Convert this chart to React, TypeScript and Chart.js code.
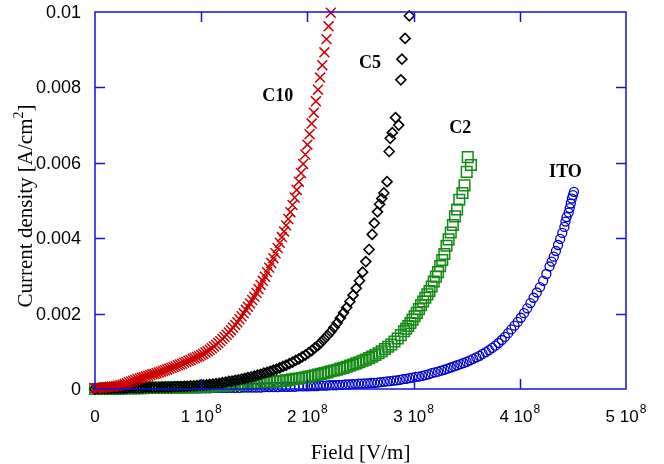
import React, { useEffect, useRef } from 'react';
import { Chart, registerables } from 'chart.js';

Chart.register(...registerables);

// Field in units of 1e8 V/m, current density in A/cm^2
const c10Field = [0, 0.02, 0.04, 0.06, 0.08, 0.1, 0.12, 0.14, 0.16, 0.18, 0.2, 0.22, 0.24, 0.26, 0.28, 0.3, 0.32, 0.34, 0.36, 0.38, 0.4, 0.42, 0.44, 0.46, 0.48, 0.5, 0.52, 0.54, 0.56, 0.58, 0.6, 0.62, 0.64, 0.66, 0.68, 0.7, 0.72, 0.74, 0.76, 0.78, 0.8, 0.82, 0.84, 0.86, 0.88, 0.9, 0.92, 0.94, 0.96, 0.98, 1.0, 1.02, 1.04, 1.06, 1.08, 1.1, 1.12, 1.14, 1.16, 1.18, 1.2, 1.22, 1.24, 1.26, 1.28, 1.3, 1.32, 1.34, 1.36, 1.38, 1.4, 1.42, 1.44, 1.46, 1.48, 1.5, 1.52, 1.54, 1.56, 1.58, 1.6, 1.62, 1.64, 1.66, 1.68, 1.7, 1.72, 1.74, 1.76, 1.78, 1.8, 1.82, 1.84, 1.86, 1.88, 1.9, 1.92, 1.94, 1.96, 1.98, 2.0, 2.02, 2.04, 2.06, 2.08, 2.1, 2.12, 2.14, 2.16, 2.18, 2.2, 2.22];
const c10Current = [0.00002, 0.00002, 0.00003, 0.00003, 0.00004, 0.00005, 0.00005, 0.00006, 0.00006, 0.00007, 0.00008, 0.00009, 0.0001, 0.00011, 0.00013, 0.00015, 0.00018, 0.0002, 0.00022, 0.00024, 0.00026, 0.00028, 0.0003, 0.00031, 0.00033, 0.00035, 0.00037, 0.00039, 0.0004, 0.00042, 0.00044, 0.00046, 0.00048, 0.0005, 0.00052, 0.00054, 0.00056, 0.00058, 0.0006, 0.00063, 0.00065, 0.00067, 0.0007, 0.00072, 0.00075, 0.00077, 0.0008, 0.00082, 0.00085, 0.00087, 0.0009, 0.00093, 0.00097, 0.001, 0.00104, 0.00108, 0.00113, 0.00117, 0.00122, 0.00127, 0.00133, 0.00138, 0.00144, 0.0015, 0.00156, 0.00163, 0.0017, 0.00177, 0.00185, 0.00193, 0.00201, 0.0021, 0.00218, 0.00227, 0.00236, 0.00245, 0.00255, 0.00265, 0.00276, 0.00287, 0.00298, 0.0031, 0.00322, 0.00334, 0.00347, 0.0036, 0.00374, 0.00388, 0.00403, 0.00418, 0.00434, 0.00451, 0.00469, 0.00488, 0.00508, 0.00528, 0.0055, 0.00573, 0.00597, 0.00622, 0.00648, 0.00676, 0.00704, 0.00733, 0.00763, 0.00794, 0.00826, 0.00859, 0.00893, 0.00928, 0.00962, 0.00998];

const c5Field = [0, 0.03, 0.06, 0.09, 0.12, 0.15, 0.18, 0.21, 0.24, 0.27, 0.3, 0.33, 0.36, 0.39, 0.42, 0.45, 0.48, 0.51, 0.54, 0.57, 0.6, 0.63, 0.66, 0.69, 0.72, 0.75, 0.78, 0.81, 0.84, 0.87, 0.9, 0.93, 0.96, 0.99, 1.02, 1.05, 1.08, 1.11, 1.14, 1.17, 1.2, 1.23, 1.26, 1.29, 1.32, 1.35, 1.38, 1.41, 1.44, 1.47, 1.5, 1.53, 1.56, 1.59, 1.62, 1.65, 1.68, 1.71, 1.74, 1.77, 1.8, 1.83, 1.86, 1.89, 1.92, 1.95, 1.98, 2.01, 2.04, 2.07, 2.1, 2.13, 2.16, 2.19, 2.22, 2.25, 2.28, 2.31, 2.34, 2.37, 2.4, 2.43, 2.46, 2.49, 2.52, 2.55, 2.58, 2.61, 2.63, 2.66, 2.68, 2.7, 2.72, 2.75, 2.77, 2.78, 2.8, 2.83, 2.86, 2.88, 2.89, 2.92, 2.96];
const c5Current = [0, 0.00001, 0.00001, 0.00001, 0.00001, 0.00001, 0.00002, 0.00002, 0.00002, 0.00002, 0.00002, 0.00003, 0.00003, 0.00003, 0.00003, 0.00003, 0.00004, 0.00004, 0.00004, 0.00004, 0.00004, 0.00005, 0.00005, 0.00005, 0.00005, 0.00006, 0.00006, 0.00006, 0.00007, 0.00007, 0.00008, 0.00008, 0.00009, 0.0001, 0.0001, 0.00011, 0.00012, 0.00013, 0.00014, 0.00015, 0.00017, 0.00018, 0.0002, 0.00021, 0.00023, 0.00024, 0.00026, 0.00028, 0.0003, 0.00032, 0.00034, 0.00037, 0.00039, 0.00042, 0.00044, 0.00047, 0.0005, 0.00053, 0.00056, 0.0006, 0.00063, 0.00067, 0.00071, 0.00076, 0.0008, 0.00085, 0.0009, 0.00096, 0.00102, 0.00109, 0.00116, 0.00124, 0.00133, 0.00142, 0.00152, 0.00163, 0.00175, 0.00188, 0.00202, 0.00216, 0.00232, 0.00249, 0.00267, 0.00287, 0.0031, 0.00338, 0.0037, 0.0041, 0.0044, 0.0047, 0.0049, 0.00505, 0.0052, 0.0055, 0.0063, 0.00665, 0.0068, 0.0072, 0.007, 0.0082, 0.00875, 0.0093, 0.0099];

const c2Field = [0, 0.03, 0.06, 0.09, 0.12, 0.15, 0.18, 0.21, 0.24, 0.27, 0.3, 0.33, 0.36, 0.39, 0.42, 0.45, 0.48, 0.51, 0.54, 0.57, 0.6, 0.63, 0.66, 0.69, 0.72, 0.75, 0.78, 0.81, 0.84, 0.87, 0.9, 0.93, 0.96, 0.99, 1.02, 1.05, 1.08, 1.11, 1.14, 1.17, 1.2, 1.23, 1.26, 1.29, 1.32, 1.35, 1.38, 1.41, 1.44, 1.47, 1.5, 1.53, 1.56, 1.59, 1.62, 1.65, 1.68, 1.71, 1.74, 1.77, 1.8, 1.83, 1.86, 1.89, 1.92, 1.95, 1.98, 2.01, 2.04, 2.07, 2.1, 2.13, 2.16, 2.19, 2.22, 2.25, 2.28, 2.31, 2.34, 2.37, 2.4, 2.43, 2.46, 2.49, 2.52, 2.55, 2.58, 2.61, 2.64, 2.67, 2.7, 2.73, 2.76, 2.79, 2.82, 2.85, 2.88, 2.91, 2.93, 2.95, 2.97, 2.99, 3.01, 3.03, 3.05, 3.07, 3.09, 3.11, 3.13, 3.15, 3.17, 3.19, 3.21, 3.23, 3.25, 3.27, 3.29, 3.31, 3.33, 3.35, 3.37, 3.39, 3.41, 3.43, 3.46, 3.48, 3.5, 3.54, 3.51];
const c2Current = [0, 0, 0, 0.00001, 0.00001, 0.00001, 0.00001, 0.00001, 0.00001, 0.00002, 0.00002, 0.00002, 0.00002, 0.00002, 0.00002, 0.00002, 0.00003, 0.00003, 0.00003, 0.00003, 0.00003, 0.00003, 0.00003, 0.00004, 0.00004, 0.00004, 0.00004, 0.00004, 0.00005, 0.00005, 0.00005, 0.00005, 0.00005, 0.00006, 0.00006, 0.00006, 0.00007, 0.00007, 0.00008, 0.00008, 0.00009, 0.00009, 0.0001, 0.00011, 0.00011, 0.00012, 0.00013, 0.00013, 0.00014, 0.00015, 0.00015, 0.00016, 0.00017, 0.00017, 0.00018, 0.00019, 0.0002, 0.0002, 0.00021, 0.00022, 0.00023, 0.00024, 0.00026, 0.00027, 0.00028, 0.00029, 0.00031, 0.00033, 0.00034, 0.00036, 0.00038, 0.0004, 0.00042, 0.00044, 0.00047, 0.00049, 0.00051, 0.00054, 0.00056, 0.00059, 0.00062, 0.00065, 0.00068, 0.00071, 0.00075, 0.00078, 0.00082, 0.00086, 0.0009, 0.00095, 0.001, 0.00106, 0.00112, 0.00118, 0.00126, 0.00134, 0.00143, 0.00153, 0.0016, 0.00167, 0.00175, 0.00184, 0.00193, 0.00202, 0.00212, 0.00222, 0.00232, 0.00242, 0.00251, 0.0026, 0.00272, 0.00285, 0.00298, 0.0031, 0.00326, 0.00342, 0.00358, 0.0038, 0.00397, 0.00415, 0.00435, 0.00458, 0.00476, 0.00502, 0.0052, 0.0054, 0.00576, 0.00594, 0.00615];

const itoField = [0, 0.04, 0.08, 0.12, 0.16, 0.2, 0.24, 0.28, 0.32, 0.36, 0.4, 0.44, 0.48, 0.52, 0.56, 0.6, 0.64, 0.68, 0.72, 0.76, 0.8, 0.84, 0.88, 0.92, 0.96, 1.0, 1.04, 1.08, 1.12, 1.16, 1.2, 1.24, 1.28, 1.32, 1.36, 1.4, 1.44, 1.48, 1.52, 1.56, 1.6, 1.64, 1.68, 1.72, 1.76, 1.8, 1.84, 1.88, 1.92, 1.96, 2.0, 2.03, 2.06, 2.09, 2.12, 2.15, 2.18, 2.21, 2.24, 2.27, 2.3, 2.33, 2.36, 2.39, 2.42, 2.45, 2.48, 2.51, 2.54, 2.57, 2.6, 2.63, 2.66, 2.69, 2.72, 2.75, 2.78, 2.81, 2.84, 2.87, 2.9, 2.93, 2.96, 2.99, 3.02, 3.05, 3.08, 3.11, 3.14, 3.17, 3.2, 3.23, 3.26, 3.29, 3.32, 3.35, 3.38, 3.41, 3.44, 3.47, 3.5, 3.53, 3.56, 3.59, 3.62, 3.65, 3.68, 3.71, 3.74, 3.77, 3.8, 3.83, 3.86, 3.89, 3.92, 3.95, 3.98, 4.01, 4.04, 4.07, 4.1, 4.13, 4.16, 4.19, 4.22, 4.25, 4.28, 4.3, 4.32, 4.34, 4.36, 4.38, 4.4, 4.42, 4.43, 4.44, 4.46, 4.47, 4.48, 4.49, 4.5, 4.51];
const itoCurrent = [0, 0, 0, 0, 0, 0, 0.00001, 0.00001, 0.00001, 0.00001, 0.00001, 0.00001, 0.00001, 0.00001, 0.00001, 0.00001, 0.00001, 0.00001, 0.00001, 0.00002, 0.00002, 0.00002, 0.00002, 0.00002, 0.00002, 0.00002, 0.00002, 0.00002, 0.00003, 0.00003, 0.00003, 0.00003, 0.00003, 0.00003, 0.00003, 0.00004, 0.00004, 0.00004, 0.00004, 0.00004, 0.00005, 0.00005, 0.00005, 0.00005, 0.00006, 0.00006, 0.00006, 0.00006, 0.00007, 0.00007, 0.00007, 0.00008, 0.00008, 0.00008, 0.00009, 0.00009, 0.00009, 0.0001, 0.0001, 0.0001, 0.00011, 0.00011, 0.00012, 0.00012, 0.00013, 0.00013, 0.00014, 0.00014, 0.00015, 0.00015, 0.00016, 0.00016, 0.00017, 0.00018, 0.00019, 0.0002, 0.00021, 0.00022, 0.00023, 0.00024, 0.00026, 0.00027, 0.00029, 0.0003, 0.00032, 0.00033, 0.00035, 0.00037, 0.00039, 0.00042, 0.00044, 0.00046, 0.00049, 0.00051, 0.00054, 0.00057, 0.0006, 0.00063, 0.00066, 0.00069, 0.00072, 0.00076, 0.0008, 0.00084, 0.00088, 0.00093, 0.00098, 0.00103, 0.00109, 0.00115, 0.00122, 0.0013, 0.00138, 0.00148, 0.00158, 0.00168, 0.00178, 0.00189, 0.00201, 0.00214, 0.00228, 0.00242, 0.00256, 0.0027, 0.00287, 0.00305, 0.00325, 0.00338, 0.00351, 0.00366, 0.00382, 0.00398, 0.00414, 0.0043, 0.00444, 0.00456, 0.00468, 0.0048, 0.00492, 0.00505, 0.00514, 0.00523];

const seriesNames = ['C10', 'C5', 'C2', 'ITO'];
const xTickValues = [0, 1, 2, 3, 4, 5];
const xTickMantissas = ['0', '1 10', '2 10', '3 10', '4 10', '5 10'];
const xTickExponent = '8';
const yTickValues = [0, 0.002, 0.004, 0.006, 0.008, 0.01];
const yTickLabels = ['0', '0.002', '0.004', '0.006', '0.008', '0.01'];
const xTitle = 'Field [V/m]';
const yTitleMain = 'Current density [A/cm';
const yTitleSup = '2';
const yTitleEnd = ']';

const AXIS_COLOR = '#1010e0';

const toPoints = (xs: number[], ys: number[]) => xs.map((x, i) => ({ x, y: ys[i] }));

const decorPlugin = {
  id: 'decor',
  afterDraw(chart: any) {
    const { ctx, chartArea } = chart;
    const xs = chart.scales.x;
    const ys = chart.scales.y;
    const { left, right, top, bottom } = chartArea;
    ctx.save();
    // frame
    ctx.strokeStyle = AXIS_COLOR;
    ctx.lineWidth = 1.5;
    ctx.strokeRect(left, top, right - left, bottom - top);
    // ticks (inward, mirrored)
    ctx.beginPath();
    xTickValues.forEach((v, i) => {
      if (i === 0 || i === xTickValues.length - 1) return;
      const px = Math.round(xs.getPixelForValue(v)) + 0.5;
      ctx.moveTo(px, bottom);
      ctx.lineTo(px, bottom - 10);
      ctx.moveTo(px, top);
      ctx.lineTo(px, top + 10);
    });
    yTickValues.forEach((v, i) => {
      if (i === 0 || i === yTickValues.length - 1) return;
      const py = Math.round(ys.getPixelForValue(v)) + 0.5;
      ctx.moveTo(left, py);
      ctx.lineTo(left + 10, py);
      ctx.moveTo(right, py);
      ctx.lineTo(right - 10, py);
    });
    ctx.stroke();

    // x tick labels
    ctx.fillStyle = '#000';
    ctx.textBaseline = 'alphabetic';
    xTickValues.forEach((v, i) => {
      const px = xs.getPixelForValue(v);
      const main = xTickMantissas[i];
      ctx.font = '17px "Liberation Sans", Arial, sans-serif';
      const mw = ctx.measureText(main).width;
      let sw = 0;
      if (i > 0) {
        ctx.font = '12px "Liberation Sans", Arial, sans-serif';
        sw = ctx.measureText(xTickExponent).width + 1;
      }
      const startX = px - (mw + sw) / 2;
      ctx.font = '17px "Liberation Sans", Arial, sans-serif';
      ctx.textAlign = 'left';
      ctx.fillText(main, startX, 422);
      if (i > 0) {
        ctx.font = '12px "Liberation Sans", Arial, sans-serif';
        ctx.fillText(xTickExponent, startX + mw + 1, 413);
      }
    });

    // y tick labels
    ctx.font = '18px "Liberation Sans", Arial, sans-serif';
    ctx.textAlign = 'right';
    ctx.textBaseline = 'middle';
    yTickValues.forEach((v, i) => {
      const py = ys.getPixelForValue(v);
      ctx.fillText(yTickLabels[i], 81, py + 1);
    });

    // x title
    ctx.font = '21px "Liberation Serif", "Times New Roman", serif';
    ctx.textAlign = 'center';
    ctx.textBaseline = 'alphabetic';
    ctx.fillText(xTitle, (left + right) / 2, 459);

    // y title (rotated, with superscript)
    ctx.save();
    ctx.translate(32, 206);
    ctx.rotate(-Math.PI / 2);
    ctx.font = '21px "Liberation Serif", "Times New Roman", serif';
    const w1 = ctx.measureText(yTitleMain).width;
    const w3 = ctx.measureText(yTitleEnd).width;
    ctx.font = '14px "Liberation Serif", "Times New Roman", serif';
    const w2 = ctx.measureText(yTitleSup).width;
    const total = w1 + w2 + w3;
    let sx = -total / 2;
    ctx.textAlign = 'left';
    ctx.font = '21px "Liberation Serif", "Times New Roman", serif';
    ctx.fillText(yTitleMain, sx, 0);
    sx += w1;
    ctx.font = '14px "Liberation Serif", "Times New Roman", serif';
    ctx.fillText(yTitleSup, sx, -9);
    sx += w2;
    ctx.font = '21px "Liberation Serif", "Times New Roman", serif';
    ctx.fillText(yTitleEnd, sx, 0);
    ctx.restore();

    // series labels
    const labelAnchors = [
      [1.72, 0.00775],
      [2.59, 0.00865],
      [3.44, 0.00692],
      [4.43, 0.00576],
    ];
    ctx.font = 'bold 18px "Liberation Serif", "Times New Roman", serif';
    ctx.textAlign = 'center';
    ctx.textBaseline = 'middle';
    seriesNames.forEach((name, i) => {
      const [vx, vy] = labelAnchors[i];
      ctx.fillText(name, xs.getPixelForValue(vx), ys.getPixelForValue(vy));
    });
    ctx.restore();
  },
};

export default function App() {
  const canvasRef = useRef<HTMLCanvasElement | null>(null);

  useEffect(() => {
    const canvas = canvasRef.current;
    if (!canvas) return;
    const chart = new Chart(canvas, {
      type: 'scatter',
      data: {
        datasets: [
          {
            label: seriesNames[0],
            data: toPoints(c10Field, c10Current),
            pointStyle: 'crossRot',
            pointRadius: 7,
            borderColor: '#cc0000',
            backgroundColor: 'transparent',
            pointBorderWidth: 1.5,
            clip: false,
          },
          {
            label: seriesNames[1],
            data: toPoints(c5Field, c5Current),
            pointStyle: 'rectRot',
            pointRadius: 5,
            borderColor: '#000000',
            backgroundColor: 'transparent',
            pointBorderWidth: 1.6,
            clip: false,
          },
          {
            label: seriesNames[2],
            data: toPoints(c2Field, c2Current),
            pointStyle: 'rect',
            pointRadius: 7.5,
            borderColor: '#138a13',
            backgroundColor: 'transparent',
            pointBorderWidth: 1.5,
            clip: false,
          },
          {
            label: seriesNames[3],
            data: toPoints(itoField, itoCurrent),
            pointStyle: 'circle',
            pointRadius: 4.5,
            borderColor: '#0000cc',
            backgroundColor: 'transparent',
            pointBorderWidth: 1.3,
            clip: false,
          },
        ] as any,
      },
      options: {
        animation: false,
        responsive: false,
        devicePixelRatio: 1,
        layout: { padding: { left: 95, right: 38, top: 12, bottom: 75 } },
        plugins: {
          legend: { display: false },
          tooltip: { enabled: false },
        },
        scales: {
          x: { type: 'linear', min: 0, max: 5, display: false },
          y: { type: 'linear', min: 0, max: 0.01, display: false },
        },
      },
      plugins: [decorPlugin],
    });
    return () => chart.destroy();
  }, []);

  return (
    <div style={{ position: 'fixed', left: 0, top: 0, width: 664, height: 464, background: '#fff' }}>
      <canvas ref={canvasRef} width={664} height={464} style={{ width: 664, height: 464 }} />
    </div>
  );
}
